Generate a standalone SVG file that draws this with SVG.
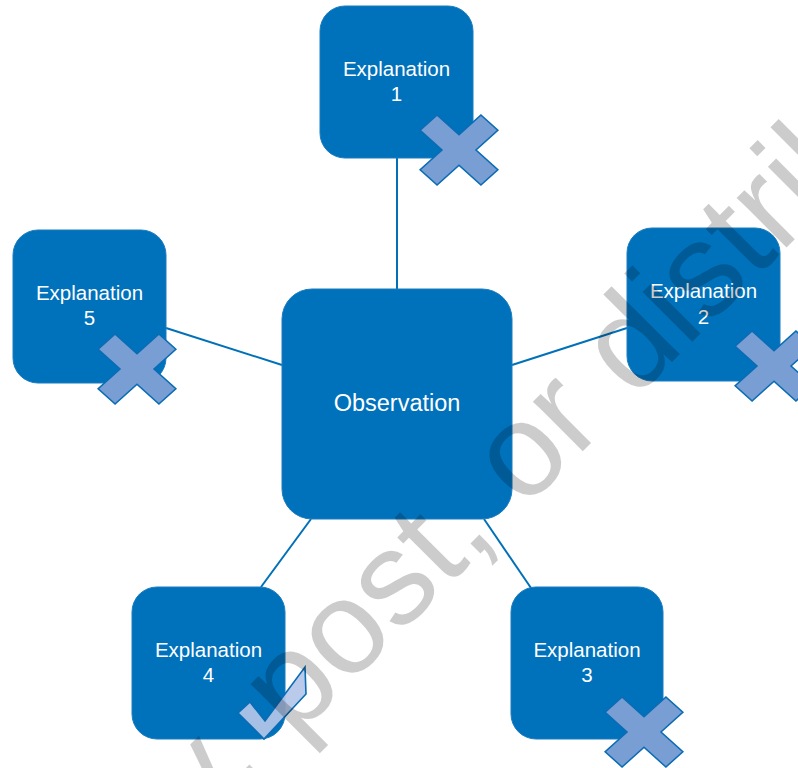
<svg xmlns="http://www.w3.org/2000/svg" width="798" height="768" viewBox="0 0 798 768">
<defs>
<style>
.box{fill:#0071bb;stroke:#1a7cc0;stroke-width:1}
.lbl{fill:#ffffff;font-family:"Liberation Sans",Arial,sans-serif;font-size:20.5px;text-anchor:middle}
.obs{fill:#ffffff;font-family:"Liberation Sans",Arial,sans-serif;font-size:23.5px;text-anchor:middle}
.con{stroke:#0070b8;stroke-width:2;fill:none}
.xm{fill:#789ed3;stroke:#0a6cb4;stroke-width:1.6;stroke-linejoin:miter}
.ck{fill:#b3c6e8;fill-opacity:0.92;stroke:#0a6cb4;stroke-width:1.6}
.wm{fill:#000000;fill-opacity:0.2;font-family:"Liberation Sans",Arial,sans-serif;font-size:133px}
</style>
<polygon id="xshape" points="12,12 43,12 43,-12 12,-12 12,-43 -12,-43 -12,-12 -43,-12 -43,12 -12,12 -12,43 12,43"/>
</defs>
<rect width="798" height="768" fill="#ffffff"/>
<g id="connectors">
<line class="con" x1="397" y1="158" x2="397" y2="289"/>
<line class="con" x1="166" y1="328" x2="282" y2="365"/>
<line class="con" x1="512" y1="365" x2="627" y2="328"/>
<line class="con" x1="311" y1="519" x2="261" y2="587"/>
<line class="con" x1="484" y1="519" x2="531" y2="588"/>
</g>
<g id="observation">
<rect class="box" x="282" y="289" width="230" height="230" rx="30"/>
<text class="obs" x="397" y="411">Observation</text>
</g>
<g id="explanation1">
<rect class="box" x="320" y="6" width="153" height="152" rx="25"/>
<text class="lbl" x="396.5" y="76">Explanation</text>
<text class="lbl" x="396.5" y="101">1</text>
<use href="#xshape" class="xm" transform="translate(459,150) scale(1,0.9) rotate(45)"/>
</g>
<g id="explanation2">
<rect class="box" x="627" y="228" width="153" height="153" rx="25"/>
<text class="lbl" x="703.5" y="298">Explanation</text>
<text class="lbl" x="703.5" y="324">2</text>
<use href="#xshape" class="xm" transform="translate(774,366) scale(1,0.9) rotate(45)"/>
</g>
<g id="explanation3">
<rect class="box" x="511" y="587" width="152" height="152" rx="25"/>
<text class="lbl" x="587" y="657">Explanation</text>
<text class="lbl" x="587" y="682">3</text>
<use href="#xshape" class="xm" transform="translate(644,732) scale(1,0.9) rotate(45)"/>
</g>
<g id="explanation4">
<rect class="box" x="132" y="587" width="153" height="152" rx="25"/>
<text class="lbl" x="208.5" y="657">Explanation</text>
<text class="lbl" x="208.5" y="682">4</text>
<polygon class="ck" points="238,713 250,702 265,721 305,667 306,694 264,739"/>
</g>
<g id="explanation5">
<rect class="box" x="13" y="230" width="153" height="153" rx="25"/>
<text class="lbl" x="89.5" y="300">Explanation</text>
<text class="lbl" x="89.5" y="325">5</text>
<use href="#xshape" class="xm" transform="translate(137,369) scale(1,0.9) rotate(45)"/>
</g>
<text class="wm" transform="translate(50,984) rotate(-45)">copy, post, or distribute</text>
</svg>
